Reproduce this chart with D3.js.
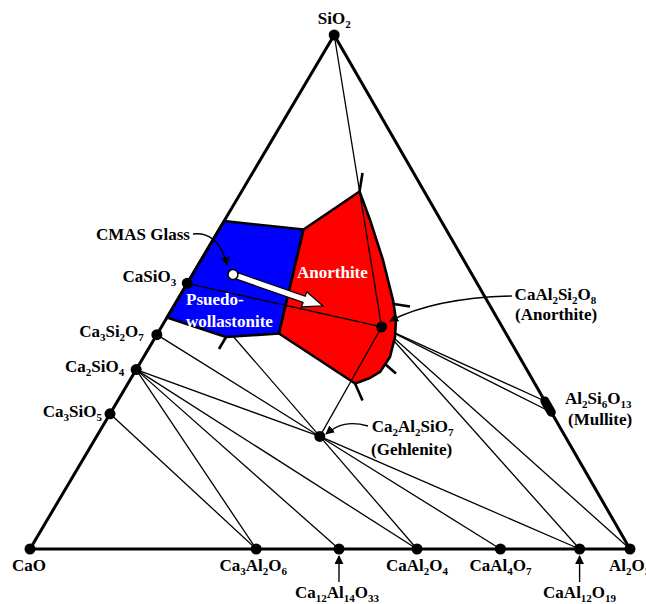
<!DOCTYPE html>
<html><head><meta charset="utf-8">
<script src="https://cdn.jsdelivr.net/npm/d3@7"></script>
<style>body{margin:0;background:#fff}svg{display:block}</style>
</head><body>
<svg id="chart" width="646" height="604"></svg>
<script>
// ---- DATA: weight fractions [CaO, Al2O3, SiO2] ----
const compoundNames = ["CaO","Al2O3","SiO2","CaSiO3","Ca3Si2O7","Ca2SiO4","Ca3SiO5",
  "Ca3Al2O6","Ca12Al14O33","CaAl2O4","CaAl4O7","CaAl12O19","CaAl2Si2O8","Ca2Al2SiO7"];
const compoundCaO   = [1, 0, 0, 0.483, 0.583, 0.651, 0.737, 0.623, 0.485, 0.355, 0.216, 0.084, 0.201, 0.409];
const compoundAl2O3 = [0, 1, 0, 0,     0,     0,     0,     0.377, 0.515, 0.645, 0.784, 0.916, 0.367, 0.372];
const compoundSiO2  = [0, 0, 1, 0.517, 0.417, 0.349, 0.263, 0,     0,     0,     0,     0,     0.432, 0.219];
const mulliteRange = [[0, 0.734, 0.266], [0, 0.712, 0.288]];

const tieLinesUnder = [["CaSiO3","Ca2Al2SiO7"]];
const tieLines = [
  ["Ca3SiO5","Ca3Al2O6"],["Ca2SiO4","Ca3Al2O6"],["Ca2SiO4","Ca12Al14O33"],["Ca2SiO4","CaAl2O4"],
  ["Ca2SiO4","Ca2Al2SiO7"],["Ca3Si2O7","Ca2Al2SiO7"],["Ca2Al2SiO7","CaAl2O4"],["Ca2Al2SiO7","CaAl4O7"],
  ["Ca2Al2SiO7","CaAl12O19"],["CaAl2Si2O8","CaAl12O19"],["CaAl2Si2O8","Al2O3"]];
const tieLinesOver = [["SiO2","CaAl2Si2O8"],["CaSiO3","CaAl2Si2O8"],["CaAl2Si2O8","Ca2Al2SiO7"]];
const mulliteTies = [0, 1];

const blueRegion = [[0.362,0,0.638],[0.2377,0.1407,0.6216],[0.3783,0.2024,0.4193],[0.4699,0.1176,0.4125],[0.5496,0,0.4504]];
const redRegion = [[0.2377,0.1407,0.6216],[0.1079,0.1966,0.6955],[0.1177,0.2422,0.6401],[0.1345,0.3032,0.5623],
  [0.1562,0.3594,0.4844],[0.1704,0.3841,0.4455],[0.1883,0.3992,0.4125],[0.2159,0.4106,0.3735],
  [0.2469,0.4087,0.3444],[0.2693,0.398,0.3327],[0.2995,0.3785,0.322],[0.3783,0.2024,0.4193]];
const boundaryStubs = [
  [[0.1079,0.1966,0.6955],[0.0852,0.1833,0.7315]],
  [[0.1683,0.365,0.4767],[0.1341,0.3941,0.4718]],
  [[0.2308,0.4092,0.3599],[0.2217,0.4369,0.3414]],
  [[0.2995,0.3785,0.322],[0.3034,0.4077,0.2889]],
  [[0.4699,0.1176,0.4125],[0.4932,0.1177,0.3891]]];
const cmasGlass = [0.3984,0.0676,0.534];
const cmasTarget = [0.2786,0.2486,0.4728];

// ---- SCALES ----
const apexU = 0.507;
const x = d3.scaleLinear().domain([0,1]).range([30,630]);
const y = d3.scaleLinear().domain([0,1]).range([549,35]);
const proj = d => [x(d[1] + d[2]*apexU), y(d[2])];
const comp = name => { const i = compoundNames.indexOf(name); return [compoundCaO[i], compoundAl2O3[i], compoundSiO2[i]]; };
const P = name => proj(comp(name));

const svg = d3.select("#chart");
const FONT = "'Liberation Serif','Times New Roman',serif";
const defs = svg.append("defs");
defs.append("marker").attr("id","ah").attr("viewBox","0 0 10 10").attr("refX",9).attr("refY",5)
  .attr("markerWidth",9).attr("markerHeight",9).attr("markerUnits","userSpaceOnUse").attr("orient","auto")
  .append("path").attr("d","M0,0 L10,5 L0,10 z").attr("fill","#000");

const line = d3.line();
function drawTies(list){
  svg.append("g").selectAll("line").data(list).join("line")
    .attr("x1",d=>P(d[0])[0]).attr("y1",d=>P(d[0])[1])
    .attr("x2",d=>P(d[1])[0]).attr("y2",d=>P(d[1])[1])
    .attr("stroke","#000").attr("stroke-width",1.3);
}
drawTies(tieLinesUnder);
drawTies(tieLines);
svg.append("g").selectAll("line").data(mulliteTies).join("line")
  .attr("x1",P("CaAl2Si2O8")[0]).attr("y1",P("CaAl2Si2O8")[1])
  .attr("x2",i=>proj(mulliteRange[i])[0]).attr("y2",i=>proj(mulliteRange[i])[1])
  .attr("stroke","#000").attr("stroke-width",1.3);

// regions
svg.append("path").attr("d", line(blueRegion.map(proj))+"Z").attr("fill","#0000ff")
  .attr("stroke","#000").attr("stroke-width",2.6).attr("stroke-linejoin","round");
svg.append("path").attr("d", line(redRegion.map(proj))+"Z").attr("fill","#ff0000")
  .attr("stroke","#000").attr("stroke-width",2.6).attr("stroke-linejoin","round");
svg.append("g").selectAll("path").data(boundaryStubs).join("path")
  .attr("d",d=>line(d.map(proj))).attr("stroke","#000").attr("stroke-width",2.6).attr("fill","none");
drawTies(tieLinesOver);

// triangle
svg.append("path").attr("d", line(["CaO","Al2O3","SiO2"].map(P))+"Z")
  .attr("fill","none").attr("stroke","#000").attr("stroke-width",3).attr("stroke-linejoin","round");

// dots
svg.append("g").selectAll("circle").data(compoundNames).join("circle")
  .attr("cx",d=>P(d)[0]).attr("cy",d=>P(d)[1]).attr("r",5.5).attr("fill","#000");
svg.append("line").attr("x1",proj(mulliteRange[0])[0]).attr("y1",proj(mulliteRange[0])[1])
  .attr("x2",proj(mulliteRange[1])[0]).attr("y2",proj(mulliteRange[1])[1])
  .attr("stroke","#000").attr("stroke-width",9).attr("stroke-linecap","round");

// white arrow
(function(){
  const s = proj(cmasGlass), t = proj(cmasTarget);
  const dx = t[0]-s[0], dy = t[1]-s[1], L = Math.hypot(dx,dy);
  const ux = dx/L, uy = dy/L, nx = -uy, ny = ux;
  const hw = 3.3, hh = 8, hl = 20;
  const st = [s[0]+ux*4, s[1]+uy*4], bs = [t[0]-ux*hl, t[1]-uy*hl];
  const pts = [[st[0]+nx*hw,st[1]+ny*hw],[bs[0]+nx*hw,bs[1]+ny*hw],[bs[0]+nx*hh,bs[1]+ny*hh],t,
    [bs[0]-nx*hh,bs[1]-ny*hh],[bs[0]-nx*hw,bs[1]-ny*hw],[st[0]-nx*hw,st[1]-ny*hw]];
  svg.append("path").attr("d",line(pts)+"Z").attr("fill","#fff").attr("stroke","#000").attr("stroke-width",1.3);
  svg.append("circle").attr("cx",s[0]).attr("cy",s[1]).attr("r",5).attr("fill","#fff").attr("stroke","#000").attr("stroke-width",1.5);
})();

// leaders
function leader(d){ svg.append("path").attr("d",d).attr("fill","none").attr("stroke","#000")
  .attr("stroke-width",1.4).attr("marker-end","url(#ah)"); }
leader("M193,234 C212,232 222,245 227,265");
leader("M512,296 C470,297 425,303 390,321");
leader("M368,426 C350,421 338,424 326,434");
const c12 = P("Ca12Al14O33"), ca6 = P("CaAl12O19");
leader(`M${c12[0]},582 L${c12[0]},556`);
leader(`M${ca6[0]},582 L${ca6[0]},556`);

// text helper with subscripts
function formula(px, py, str, anchor, color){
  const t = svg.append("text").attr("x",px).attr("y",py).attr("text-anchor",anchor||"start")
    .attr("font-family",FONT).attr("font-weight","bold").attr("font-size",17).attr("fill",color||"#000");
  let sub = false;
  str.split(/(\d+)/).filter(p=>p.length).forEach(p=>{
    if(/^\d+$/.test(p)){ t.append("tspan").attr("font-size",11).attr("dy", sub?0:4).text(p); sub = true; }
    else { t.append("tspan").attr("dy", sub?-4:0).text(p); sub = false; }
  });
  return t;
}
const lab = (name, dx, dy, anchor) => { const p = P(name); formula(p[0]+dx, p[1]+dy, name, anchor); };
lab("SiO2", 0, -11, "middle");
lab("CaO", -18, 22, "start");
lab("Al2O3", -21, 22, "start");
lab("Ca3Al2O6", -3, 22, "middle");
lab("Ca12Al14O33", -2, 49, "middle");
lab("CaAl2O4", 0, 22, "middle");
lab("CaAl4O7", 0, 22, "middle");
lab("CaAl12O19", 0, 49, "middle");
lab("CaSiO3", -11, -1, "end");
lab("Ca3Si2O7", -13, 2, "end");
lab("Ca2SiO4", -12, 2, "end");
lab("Ca3SiO5", -8, 3, "end");
lab("CaAl2Si2O8", 133, -27, "start");
formula(515, 320, "(Anorthite)", "start");
lab("Ca2Al2SiO7", 52, -4, "start");
formula(371, 455, "(Gehlenite)", "start");
formula(565, 404, "Al2Si6O13", "start");
formula(568, 425, "(Mullite)", "start");
formula(96, 240, "CMAS Glass", "start");
formula(297, 278, "Anorthite", "start", "#fff");
formula(186, 305, "Psuedo-", "start", "#fff");
formula(186, 327, "wollastonite", "start", "#fff");
</script>
</body></html>
